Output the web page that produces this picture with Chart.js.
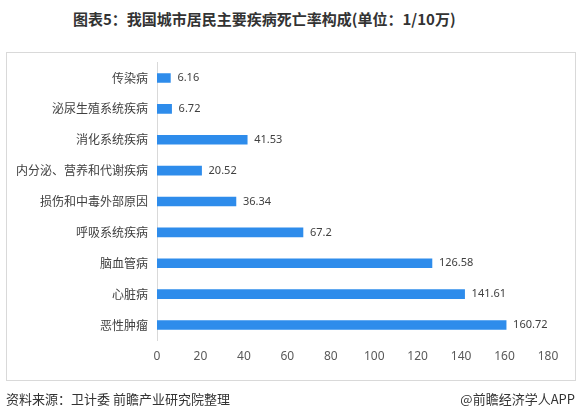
<!DOCTYPE html>
<html>
<head>
<meta charset="utf-8">
<script src="https://cdn.jsdelivr.net/npm/chart.js@4/dist/chart.umd.min.js"></script>
<style>
  body { margin: 0; background: #fff; font-family: "Noto Sans CJK SC", "Noto Sans", sans-serif; }
  #wrap { position: relative; width: 580px; height: 419px; overflow: hidden; }
  #title { position: absolute; left: 73px; top: 8px; font-size: 15px; font-weight: bold; color: #333; white-space: nowrap; }
  #box { position: absolute; left: 6px; top: 52px; width: 568px; height: 327px; border: 1px solid #d9d9d9; }
  #src { position: absolute; left: 6px; top: 389px; font-size: 13px; color: #333; white-space: nowrap; }
  #app { position: absolute; right: 5px; top: 389px; font-size: 13px; color: #333; white-space: nowrap; }
  #c { position: absolute; left: 0; top: 0; }
</style>
</head>
<body>
<div id="wrap">
  <div id="title">图表5：我国城市居民主要疾病死亡率构成(单位：1/10万)</div>
  <div id="box"></div>
  <canvas id="c" width="580" height="419"></canvas>
  <div id="src">资料来源：卫计委 前瞻产业研究院整理</div>
  <div id="app">@前瞻经济学人APP</div>
</div>
<script>
// categories (top to bottom) and death rates per 100k
const categories = ['传染病', '泌尿生殖系统疾病', '消化系统疾病', '内分泌、营养和代谢疾病', '损伤和中毒外部原因', '呼吸系统疾病', '脑血管病', '心脏病', '恶性肿瘤']
const rates = [6.16, 6.72, 41.53, 20.52, 36.34, 67.2, 126.58, 141.61, 160.72]
const rateLabels = ['6.16', '6.72', '41.53', '20.52', '36.34', '67.2', '126.58', '141.61', '160.72']

const valueLabels = {
  id: 'valueLabels',
  afterDatasetsDraw(chart) {
    const ctx = chart.ctx
    const meta = chart.getDatasetMeta(0)
    ctx.save()
    ctx.font = '11px "Noto Sans", sans-serif'
    ctx.fillStyle = '#404040'
    ctx.textAlign = 'left'
    ctx.textBaseline = 'middle'
    meta.data.forEach((bar, i) => {
      ctx.fillText(rateLabels[i], bar.x + 7, bar.y)
    })
    ctx.restore()
  }
}

new Chart(document.getElementById('c'), {
  type: 'bar',
  data: {
    labels: categories,
    datasets: [{
      data: rates,
      backgroundColor: '#2e8ceb',
      barThickness: 9
    }]
  },
  options: {
    indexAxis: 'y',
    responsive: false,
    animation: false,
    layout: { padding: { left: 0, right: 32, top: 62.6, bottom: 0 } },
    plugins: { legend: { display: false }, tooltip: { enabled: false } },
    scales: {
      x: {
        min: 0, max: 180,
        ticks: { stepSize: 20, color: '#595959', font: { size: 12, family: '"Noto Sans", sans-serif' }, padding: 9 },
        grid: { display: false, drawTicks: false },
        border: { display: false },
        afterFit(scale) { scale.height = 78.6 }
      },
      y: {
        ticks: { color: '#404040', font: { size: 12, family: '"Noto Sans CJK SC", sans-serif' }, padding: 9 },
        grid: { display: false, drawTicks: false },
        border: { color: '#d9d9d9' },
        afterFit(scale) { scale.width = 157 }
      }
    }
  },
  plugins: [valueLabels]
})
</script>
</body>
</html>
